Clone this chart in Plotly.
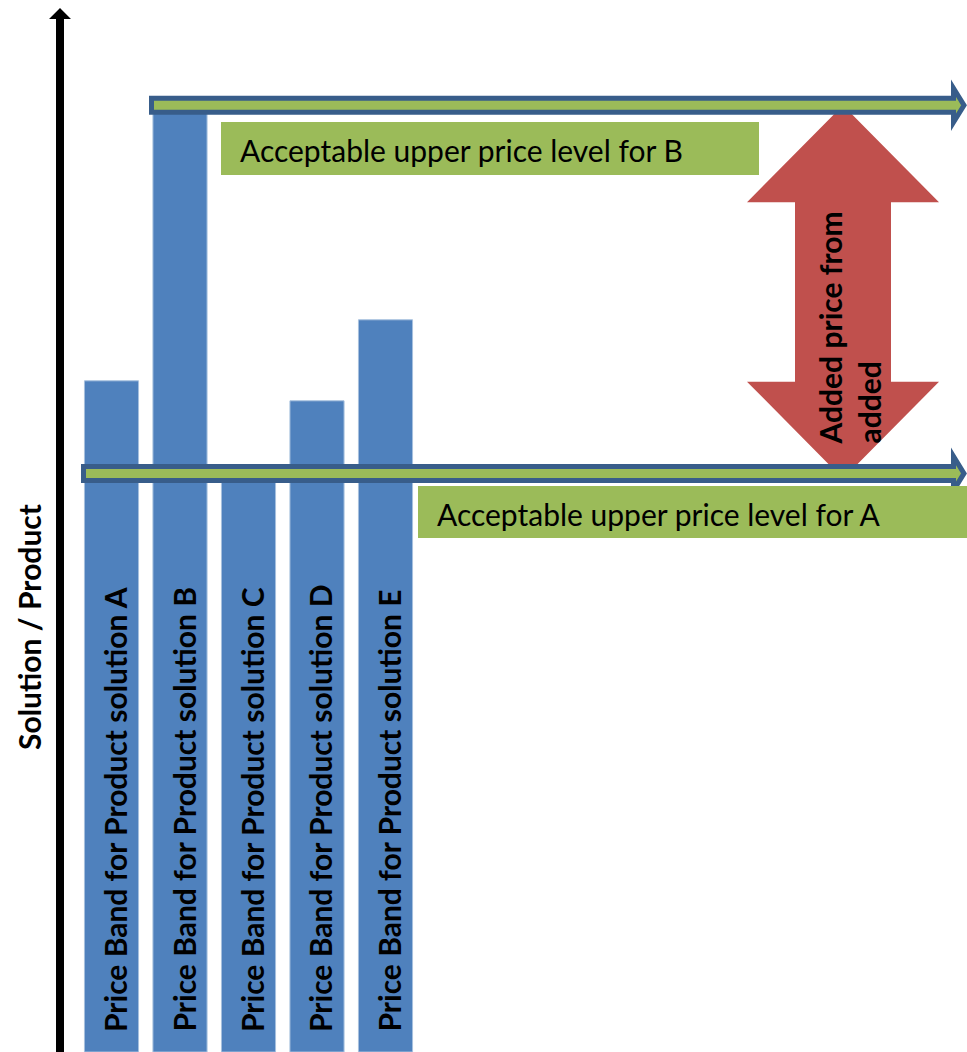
import plotly.graph_objects as go

# ---- data -------------------------------------------------------------
solutions = ["A", "B", "C", "D", "E"]
price_band_top = [63.8, 90.0, 55.0, 61.9, 69.6]       # relative price level of each band
bar_labels = [f"Price Band for Product solution {s}" for s in solutions]
acceptable_levels = {"A": 55.0, "B": 90.0}            # acceptable upper price levels
level_labels = {"A": "Acceptable upper price level for A",
                "B": "Acceptable upper price level for B"}
axis_title = "Solution / Product"
added_text = "Added price from<br>added"

# ---- canvas -----------------------------------------------------------
W, H = 967, 1052
Y_MAX = 100.0
UNIT = H / Y_MAX           # pixels per price unit


def px(x):
    """horizontal pixel -> paper fraction"""
    return x / W


def yv(y):
    """vertical pixel (from top) -> value on the price axis"""
    return (H - y) / UNIT


BLUE = "#4f81bd"
DARK_BLUE = "#385d8a"
GREEN = "#9bbb59"
RED = "#c0504d"
FONT = "Lato"
FS = 30

fig = go.Figure()
fig.add_trace(go.Bar(
    x=list(range(len(solutions))),
    y=price_band_top,
    width=0.79,
    marker=dict(color=BLUE, line=dict(color="#a7c0de", width=1)),
    hoverinfo="skip",
))

shapes = []

# vertical axis arrow
shapes.append(dict(
    type="path", xref="paper", yref="paper", layer="above",
    path=(f"M {px(56)},{1 - 1052 / H} L {px(56)},{1 - 19 / H} L {px(49)},{1 - 19 / H} "
          f"L {px(60)},{1 - 8 / H} L {px(71)},{1 - 19 / H} L {px(64)},{1 - 19 / H} "
          f"L {px(64)},{1 - 1052 / H} Z"),
    fillcolor="black", line=dict(width=0),
))

# red double arrow between the two acceptable levels
lb, la = acceptable_levels["B"], acceptable_levels["A"]
head = 97 / UNIT
cx, hw, sw = 843, 96, 48
red_pts = [
    (cx, lb), (cx - hw, lb - head), (cx - sw, lb - head),
    (cx - sw, la + head - 0.5), (cx - hw, la + head - 0.5), (cx, la - 0.5),
    (cx + hw, la + head - 0.5), (cx + sw, la + head - 0.5),
    (cx + sw, lb - head), (cx + hw, lb - head),
]
shapes.append(dict(
    type="path", xref="paper", yref="y", layer="above",
    path="M " + " L ".join(f"{px(x)},{y}" for x, y in red_pts) + " Z",
    fillcolor=RED, line=dict(width=0),
))

# horizontal block arrows marking the acceptable levels
arrow_start = {"A": 83.5, "B": 151.5}
for key in ["B", "A"]:
    xs, xh, xt = arrow_start[key], 953.5, 964
    pts = [(xs, 7), (xh, 7), (xh, 17), (xt, 0), (xh, -17), (xh, -7), (xs, -7)]
    shapes.append(dict(
        type="path", xref="paper", yref="y", ysizemode="pixel",
        yanchor=acceptable_levels[key], layer="above",
        path="M " + " L ".join(f"{px(x)},{y}" for x, y in pts) + " Z",
        fillcolor=GREEN, line=dict(color=DARK_BLUE, width=5),
    ))

# green label boxes
boxes = {"B": (221, 122, 759, 175), "A": (418, 486, 967, 538)}
for key, (x0, y0, x1, y1) in boxes.items():
    shapes.append(dict(
        type="rect", xref="paper", yref="y", layer="above",
        x0=px(x0), x1=px(x1), y0=yv(y1), y1=yv(y0),
        fillcolor=GREEN, line=dict(width=0),
    ))

annotations = []
for i, lab in enumerate(bar_labels):
    annotations.append(dict(
        x=i, y=yv(1034), xref="x", yref="y", text=lab, textangle=-90,
        showarrow=False, xanchor="center", yanchor="bottom", xshift=3,
        font=dict(family=FONT, size=FS, color="black", weight="bold"),
    ))

label_pos = {"B": (238, 150), "A": (435, 514)}
for key, (x, y) in label_pos.items():
    annotations.append(dict(
        x=px(x), y=yv(y), xref="paper", yref="y", text=level_labels[key],
        showarrow=False, xanchor="left", yanchor="middle",
        font=dict(family=FONT, size=FS, color="black"),
    ))

annotations.append(dict(
    x=px(849), y=yv(447), xref="paper", yref="y", text=added_text,
    textangle=-90, align="left", showarrow=False,
    xanchor="center", yanchor="bottom",
    font=dict(family=FONT, size=FS, color="black", weight="bold"),
))

annotations.append(dict(
    x=px(29), y=yv(627), xref="paper", yref="y", text=axis_title,
    textangle=-90, showarrow=False, xanchor="center", yanchor="middle",
    font=dict(family=FONT, size=FS, color="black", weight="bold"),
))

x0 = -111.5 / 68.5
fig.update_layout(
    width=W, height=H,
    margin=dict(l=0, r=0, t=0, b=0),
    paper_bgcolor="white", plot_bgcolor="white",
    showlegend=False,
    xaxis=dict(range=[x0, x0 + W / 68.5], visible=False, fixedrange=True),
    yaxis=dict(range=[0, Y_MAX], visible=False, fixedrange=True),
    shapes=shapes,
    annotations=annotations,
)

fig.write_html("out.html")
